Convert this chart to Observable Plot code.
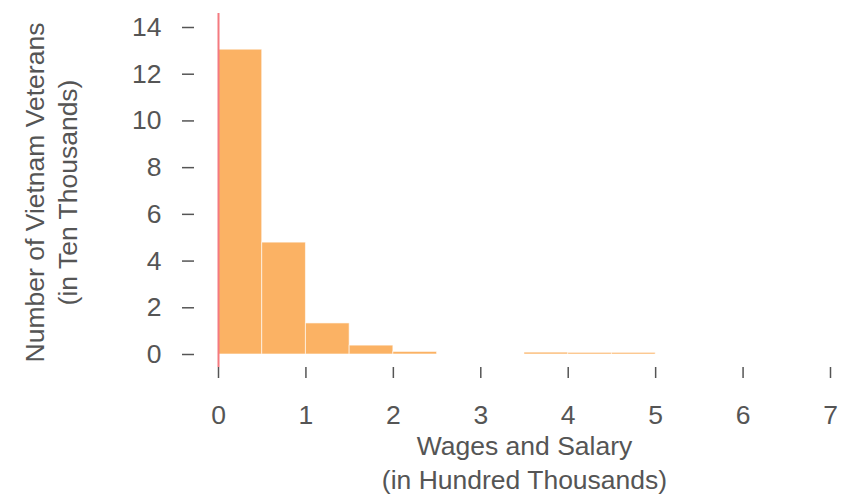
<!DOCTYPE html>
<html>
<head>
<meta charset="utf-8">
<script src="https://cdn.jsdelivr.net/npm/d3@7"></script>
<script src="https://cdn.jsdelivr.net/npm/@observablehq/plot@0.6"></script>
<style>
  html, body { margin: 0; padding: 0; background: #fff; }
  #chart svg { display: block; }
</style>
</head>
<body>
<div id="chart"></div>
<script>
// Histogram bins (wages in hundred thousands) and counts (ten thousands)
const binStart = [0, 0.5, 1, 1.5, 2, 2.5, 3, 3.5, 4, 4.5, 5, 5.5, 6, 6.5];
const binEnd   = [0.5, 1, 1.5, 2, 2.5, 3, 3.5, 4, 4.5, 5, 5.5, 6, 6.5, 7];
const counts   = [13.05, 4.79, 1.33, 0.38, 0.11, 0, 0, 0.08, 0.07, 0.07, 0, 0, 0, 0];
const xTicks = [0, 1, 2, 3, 4, 5, 6, 7];
const yTicks = [0, 2, 4, 6, 8, 10, 12, 14];
const xTitle = "Wages and Salary\n(in Hundred Thousands)";
const yTitle = "Number of Vietnam Veterans\n(in Ten Thousands)";

const bins = binStart.map((s, i) => ({x1: s, x2: binEnd[i], y: counts[i]})).filter(d => d.y > 0);
const textColor = "#555555";
const fs = 26.5;

const chart = Plot.plot({
  width: 850,
  height: 494,
  marginLeft: 218,
  marginRight: 20,
  marginTop: 13,
  marginBottom: 127,
  style: {fontFamily: "Liberation Sans, Arial, sans-serif", fontSize: fs + "px", color: textColor, background: "#fff"},
  x: {domain: [0, 7]},
  y: {domain: [0, 14], insetTop: 14, insetBottom: 13},
  marks: [
    Plot.rectY(bins, {x1: "x1", x2: "x2", y: "y", fill: "#fbb264", stroke: "white", strokeWidth: 1, strokeOpacity: 0.6}),
    Plot.ruleX([0], {stroke: "#f47a80", strokeWidth: 2}),
    Plot.axisY(yTicks, {anchor: "left", dx: -24, tickSize: 12, tickPadding: 21, stroke: textColor, fill: textColor, fontSize: fs, label: null, strokeWidth: 1.5}),
    Plot.axisX(xTicks, {anchor: "bottom", tickSize: 11, tickPadding: 27, stroke: textColor, fill: textColor, fontSize: fs, label: null, strokeWidth: 1.5}),
    Plot.text([xTitle], {frameAnchor: "bottom", dy: 63, lineAnchor: "top", lineHeight: 1.28, fontSize: fs, fill: textColor}),
    Plot.text([yTitle], {frameAnchor: "left", textAnchor: "middle", rotate: -90, dx: -169, dy: 2, lineAnchor: "middle", lineHeight: 1.25, fontSize: fs, fill: textColor})
  ]
});
document.getElementById("chart").appendChild(chart);
</script>
</body>
</html>
